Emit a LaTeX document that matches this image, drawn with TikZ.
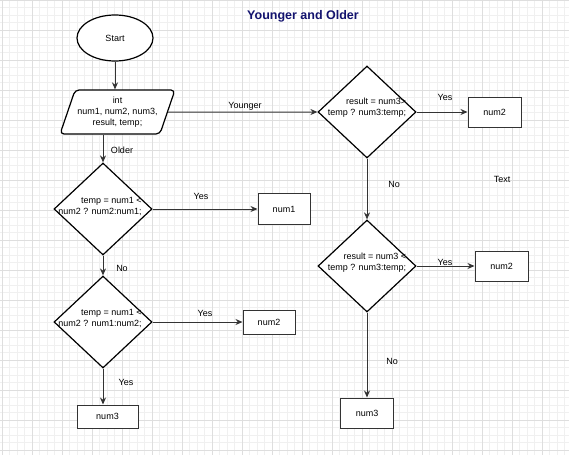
\documentclass[tikz,border=0pt]{standalone}
\usepackage{fontspec}
\setmainfont{Liberation Sans}
\usetikzlibrary{shapes.geometric,arrows.meta,calc}
\definecolor{gridminor}{HTML}{F0F0F0}
\definecolor{gridmajor}{HTML}{DEDEDE}
\definecolor{titleblue}{HTML}{12126E}
\definecolor{linegray}{HTML}{333333}
\begin{document}
\begin{tikzpicture}[x=1pt,y=-1pt,
  every node/.style={font=\fontsize{9}{11}\selectfont},
  shapeline/.style={draw=black,line width=1.2pt,fill=white},
  startnode/.style={shapeline,ellipse,minimum width=76pt,minimum height=46pt,inner sep=0pt},
  ionode/.style={shapeline,trapezium,trapezium left angle=65,trapezium right angle=115,
    trapezium stretches=true,minimum width=115pt,minimum height=44pt,inner sep=0pt,
    rounded corners=4pt,align=center},
  decision/.style={shapeline,diamond,minimum width=98pt,minimum height=92pt,inner sep=0pt},
  dtext/.style={align=right,inner sep=0pt,font=\fontsize{9}{11}\selectfont},
  procbox/.style={draw=linegray,line width=1pt,fill=white,rectangle,inner sep=0pt},
  flow/.style={draw=linegray,line width=1pt,-{Stealth[length=7pt,width=6pt]}},
  lbl/.style={inner sep=0pt}]
% canvas and grid
\useasboundingbox (0,0) rectangle (569,455);
\fill[white] (0,0) rectangle (569,455);
\foreach \gx in {2,9.5,...,569} \draw[gridminor,line width=0.6pt] (\gx,0) -- (\gx,455);
\foreach \gy in {0,7.5,...,455} \draw[gridminor,line width=0.6pt] (0,\gy) -- (569,\gy);
\foreach \gx in {2,32,...,569} \draw[gridmajor,line width=0.7pt] (\gx,0) -- (\gx,455);
\foreach \gy in {0,30,...,455} \draw[gridmajor,line width=0.7pt] (0,\gy) -- (569,\gy);

% title
\node[font=\fontsize{12.5}{14}\selectfont\bfseries,text=titleblue] (title) at (303,16) {Younger and Older};

% left column
\node[startnode] (start) at (115,38) {Start};
\node[ionode] (decl) at (117.5,112) {int\\num1, num2, num3,\\result, temp;};
\node[decision,label={[dtext,xshift=-3pt,yshift=2.5pt]center:temp = num1 <\\num2 ? num2:num1;}] (d1) at (103,209) {};
\node[procbox,minimum width=52pt,minimum height=31pt] (n1) at (284,209) {num1};
\node[decision,label={[dtext,xshift=-3pt,yshift=4pt]center:temp = num1 <\\num2 ? num1:num2;}] (d2) at (103,322) {};
\node[procbox,minimum width=52pt,minimum height=24pt] (n2a) at (269,322) {num2};
\node[procbox,minimum width=61pt,minimum height=23pt] (n3a) at (107.5,416.5) {num3};

% right column
\node[decision,label={[dtext,yshift=4.5pt]center:result = num3>\\temp ? num3:temp;}] (r1) at (367,112) {};
\node[procbox,minimum width=53pt,minimum height=30pt] (n2b) at (494.5,112) {num2};
\node[decision,label={[dtext,yshift=3.5pt]center:result = num3 <\\temp ? num3:temp;}] (r2) at (367,266) {};
\node[procbox,minimum width=53pt,minimum height=30pt] (n2c) at (501.5,266) {num2};
\node[procbox,minimum width=53pt,minimum height=30pt] (n3b) at (367,413) {num3};

% connectors
\draw[flow] (start) -- (start |- decl.north);
\draw[flow] (decl.east) -- (r1.west);
\draw[flow] (decl.south -| d1.north) -- (d1.north);
\draw[flow] (d1.east) -- (n1.west);
\draw[flow] (d1.south) -- (d2.north);
\draw[flow] (d2.east) -- (n2a.west);
\draw[flow] (d2.south) -- (d2.south |- n3a.north);
\draw[flow] (r1.east) -- (n2b.west);
\draw[flow] (r1.south) -- (r2.north);
\draw[flow] (r2.east) -- (n2c.west);
\draw[flow] (r2.south) -- (n3b.north);

% connector labels
\node[lbl] (lyounger) at (245,106) {Younger};
\node[lbl] (lolder) at (122,150) {Older};
\node[lbl] (lyes1) at (201,196) {Yes};
\node[lbl] (lno1) at (122,268) {No};
\node[lbl] (lyes2) at (205,313) {Yes};
\node[lbl] (lyes3) at (126,382) {Yes};
\node[lbl] (lyes4) at (445,97) {Yes};
\node[lbl] (lno2) at (394,184) {No};
\node[lbl] (lyes5) at (445,262) {Yes};
\node[lbl] (lno3) at (392,361) {No};
\node[lbl] (ltext) at (502,179) {Text};
\end{tikzpicture}
\end{document}
